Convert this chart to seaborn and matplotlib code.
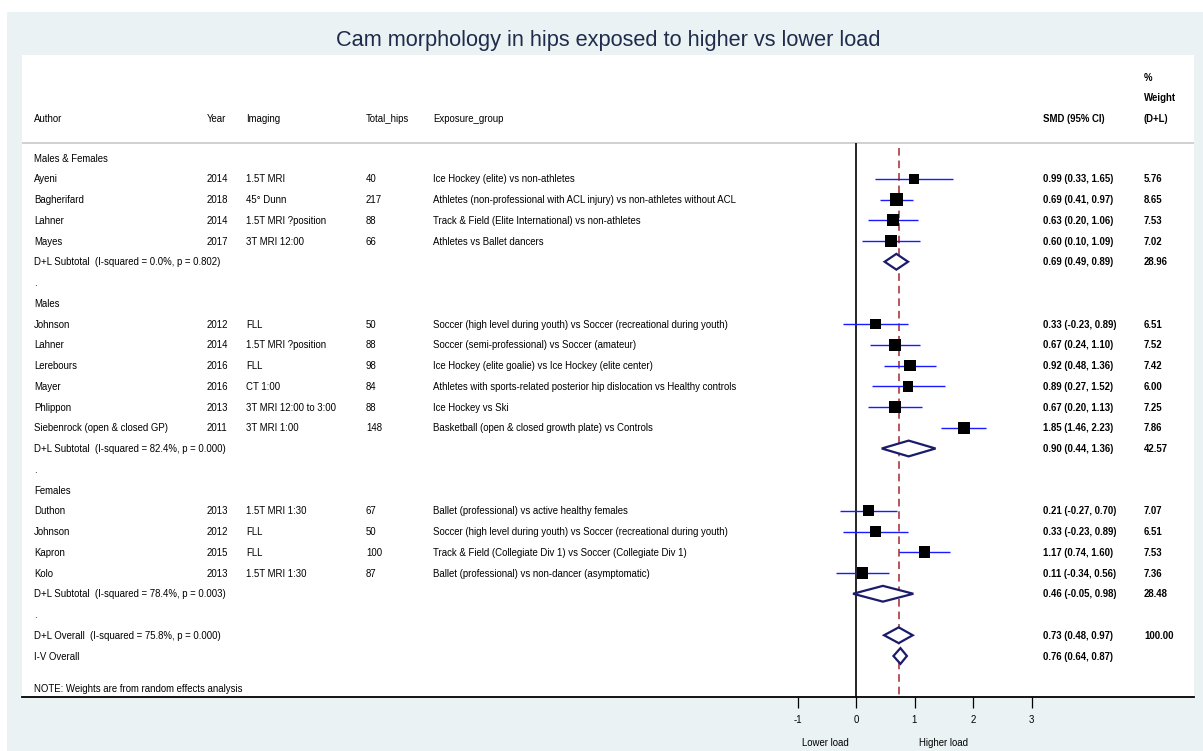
import matplotlib
matplotlib.use("Agg")
import matplotlib.pyplot as plt
import matplotlib.transforms as mtransforms
from matplotlib.patches import Rectangle, Polygon
import pandas as pd
import seaborn as sns

# ---------------------------------------------------------------- data
title = "Cam morphology in hips exposed to higher vs lower load"

group_names = ["Males & Females", "Males", "Females"]
group_sizes = [4, 6, 4]

authors = ["Ayeni", "Bagherifard", "Lahner", "Mayes",
           "Johnson", "Lahner", "Lerebours", "Mayer", "Phlippon",
           "Siebenrock (open & closed GP)",
           "Duthon", "Johnson", "Kapron", "Kolo"]
years = [2014, 2018, 2014, 2017,
         2012, 2014, 2016, 2016, 2013, 2011,
         2013, 2012, 2015, 2013]
imaging = ["1.5T MRI", "45° Dunn", "1.5T MRI ?position", "3T MRI 12:00",
           "FLL", "1.5T MRI ?position", "FLL", "CT 1:00",
           "3T MRI 12:00 to 3:00", "3T MRI 1:00",
           "1.5T MRI 1:30", "FLL", "FLL", "1.5T MRI 1:30"]
total_hips = [40, 217, 88, 66,
              50, 88, 98, 84, 88, 148,
              67, 50, 100, 87]
exposure = ["Ice Hockey (elite) vs non-athletes",
            "Athletes (non-professional with ACL injury) vs non-athletes without ACL",
            "Track & Field (Elite International) vs non-athletes",
            "Athletes vs Ballet dancers",
            "Soccer (high level during youth) vs Soccer (recreational during youth)",
            "Soccer (semi-professional) vs Soccer (amateur)",
            "Ice Hockey (elite goalie) vs Ice Hockey (elite center)",
            "Athletes with sports-related posterior hip dislocation vs Healthy controls",
            "Ice Hockey vs Ski",
            "Basketball (open & closed growth plate) vs Controls",
            "Ballet (professional) vs active healthy females",
            "Soccer (high level during youth) vs Soccer (recreational during youth)",
            "Track & Field (Collegiate Div 1) vs Soccer (Collegiate Div 1)",
            "Ballet (professional) vs non-dancer (asymptomatic)"]
smd = [0.99, 0.69, 0.63, 0.60,
       0.33, 0.67, 0.92, 0.89, 0.67, 1.85,
       0.21, 0.33, 1.17, 0.11]
ci_low = [0.33, 0.41, 0.20, 0.10,
          -0.23, 0.24, 0.48, 0.27, 0.20, 1.46,
          -0.27, -0.23, 0.74, -0.34]
ci_high = [1.65, 0.97, 1.06, 1.09,
           0.89, 1.10, 1.36, 1.52, 1.13, 2.23,
           0.70, 0.89, 1.60, 0.56]
weights = [5.76, 8.65, 7.53, 7.02,
           6.51, 7.52, 7.42, 6.00, 7.25, 7.86,
           7.07, 6.51, 7.53, 7.36]

sub_smd = [0.69, 0.90, 0.46]
sub_low = [0.49, 0.44, -0.05]
sub_high = [0.89, 1.36, 0.98]
sub_weight = [28.96, 42.57, 28.48]
sub_i2 = [0.0, 82.4, 78.4]
sub_p = [0.802, 0.000, 0.003]

overall_i2 = 75.8
overall_p = 0.000
overall_labels = [f"D+L Overall  (I-squared = {overall_i2:.1f}%, p = {overall_p:.3f})",
                  "I-V Overall"]
overall_smd = [0.73, 0.76]
overall_low = [0.48, 0.64]
overall_high = [0.97, 0.87]
overall_weight = [100.00, None]

x_ticks = [-1, 0, 1, 2, 3]
side_labels = ["Lower load", "Higher load"]
note = "NOTE: Weights are from random effects analysis"

# ---------------------------------------------------------------- row layout
rows_study, rows_sub, rows_group = [], [], []
dot_rows = []
r = 0
k = 0
for g, n in enumerate(group_sizes):
    rows_group.append(r)
    r += 1
    for _ in range(n):
        rows_study.append(r)
        r += 1
        k += 1
    rows_sub.append(r)
    r += 1
    dot_rows.append(r)
    r += 1
rows_overall = [r, r + 1]
note_row = r + 2.54

studies = pd.DataFrame({"smd": smd, "row": rows_study, "weight": weights,
                        "lo": ci_low, "hi": ci_high})

# ---------------------------------------------------------------- style
sns.set_style("white")
plt.rcParams["font.family"] = ["Liberation Sans", "DejaVu Sans"]

W, H = 1203, 751
fig = plt.figure(figsize=(W / 100, H / 100), dpi=100, facecolor="white")
fig.patches.append(Rectangle((7 / W, 0), 1 - 7 / W, 1 - 12 / H,
                             transform=fig.transFigure, facecolor="#eaf2f3",
                             edgecolor="none", zorder=-10))

ax = fig.add_axes([22 / W, 1 - 697 / H, (1194 - 22) / W, (697 - 55) / H])
ax.set_facecolor("white")

px_per_unit = 58.5
x0_px = 856
ax.set_xlim((22 - x0_px) / px_per_unit, (1194 - x0_px) / px_per_unit)
row_px, row0_px = 20.75, 158
ax.set_ylim((697 - row0_px) / row_px, (55 - row0_px) / row_px)

def prow(py):
    return (py - row0_px) / row_px

y_head_line = prow(143)
y_bottom = ax.get_ylim()[0]

# reference lines
ax.axhline(y_head_line, color="#c8c8c8", lw=1.2, zorder=1)
ax.vlines(0, y_head_line, y_bottom, color="black", lw=1.2, zorder=1)
ax.vlines(overall_smd[0], prow(148), y_bottom, color="#a32a30", lw=1.1,
          linestyles=(0, (5, 3.2)), zorder=1)

# study confidence intervals and weighted boxes
ax.hlines(studies["row"], studies["lo"], studies["hi"], color="#1a1aff",
          lw=1.0, zorder=2)
sns.scatterplot(data=studies, x="smd", y="row", size="weight",
                sizes=(0, 96), size_norm=(0, 10), marker="s", color="black",
                linewidth=0, legend=False, ax=ax, zorder=3)

# pooled diamonds
def diamond(est, lo, hi, row, h=0.38):
    ax.add_patch(Polygon([(lo, row), (est, row - h), (hi, row), (est, row + h)],
                         closed=True, facecolor="white", edgecolor="#1b1b6b",
                         lw=1.6, zorder=3))

for e, lo, hi, rr in zip(sub_smd, sub_low, sub_high, rows_sub):
    diamond(e, lo, hi, rr)
for e, lo, hi, rr in zip(overall_smd, overall_low, overall_high, rows_overall):
    diamond(e, lo, hi, rr)

ax.set_xlabel("")
ax.set_ylabel("")
ax.set_yticks([])
ax.set_xticks(x_ticks)
ax.set_xticklabels([str(t) for t in x_ticks])
ax.tick_params(axis="x", direction="out", length=8, width=0.9, pad=5,
               labelsize=6.9, colors="black", bottom=True)
for s in ["top", "left", "right"]:
    ax.spines[s].set_visible(False)
ax.spines["bottom"].set_color("black")
ax.spines["bottom"].set_linewidth(1.3)

# ---------------------------------------------------------------- table text
tr = mtransforms.blended_transform_factory(fig.transFigure, ax.transData)
fs = 6.9
base = 0.175

def put(xpx, row, s, bold=False):
    ax.text(xpx / W, row + base, s, transform=tr, fontsize=fs, ha="left",
            va="baseline", color="black",
            fontweight="bold" if bold else "normal")

cols = {"author": 34, "year": 207, "imaging": 246, "hips": 366,
        "exposure": 433, "smd": 1043, "weight": 1144}

y_hdr = prow(118)
put(cols["author"], y_hdr, "Author")
put(cols["year"], y_hdr, "Year")
put(cols["imaging"], y_hdr, "Imaging")
put(cols["hips"], y_hdr, "Total_hips")
put(cols["exposure"], y_hdr, "Exposure_group")
put(cols["smd"], y_hdr, "SMD (95% CI)", bold=True)
put(cols["weight"], y_hdr, "(D+L)", bold=True)
put(cols["weight"], prow(97), "Weight", bold=True)
put(cols["weight"], prow(77), "%", bold=True)

for name, rr in zip(group_names, rows_group):
    put(cols["author"], rr, name)

for i, rr in enumerate(rows_study):
    put(cols["author"], rr, authors[i])
    put(cols["year"], rr, str(years[i]))
    put(cols["imaging"], rr, imaging[i])
    put(cols["hips"], rr, str(total_hips[i]))
    put(cols["exposure"], rr, exposure[i])
    put(cols["smd"], rr, f"{smd[i]:.2f} ({ci_low[i]:.2f}, {ci_high[i]:.2f})", bold=True)
    put(cols["weight"], rr, f"{weights[i]:.2f}", bold=True)

for j, rr in enumerate(rows_sub):
    put(cols["author"], rr,
        f"D+L Subtotal  (I-squared = {sub_i2[j]:.1f}%, p = {sub_p[j]:.3f})")
    put(cols["smd"], rr, f"{sub_smd[j]:.2f} ({sub_low[j]:.2f}, {sub_high[j]:.2f})", bold=True)
    put(cols["weight"], rr, f"{sub_weight[j]:.2f}", bold=True)

for rr in dot_rows:
    put(cols["author"], rr, ".")

for j, rr in enumerate(rows_overall):
    put(cols["author"], rr, overall_labels[j])
    put(cols["smd"], rr,
        f"{overall_smd[j]:.2f} ({overall_low[j]:.2f}, {overall_high[j]:.2f})", bold=True)
    if overall_weight[j] is not None:
        put(cols["weight"], rr, f"{overall_weight[j]:.2f}", bold=True)

put(cols["author"], note_row, note)

# axis side labels under the scale
tr_side = mtransforms.blended_transform_factory(ax.transData, fig.transFigure)
for xs, lab in zip([-0.53, 1.49], side_labels):
    ax.text(xs, 1 - 746.5 / H, lab, transform=tr_side, fontsize=fs,
            ha="center", va="baseline", color="black")

fig.text(608 / W, 1 - 46 / H, title, ha="center", va="baseline",
         fontsize=15.7, color="#1f2c4c")

fig.savefig("out.png", dpi=100, facecolor=fig.get_facecolor())
